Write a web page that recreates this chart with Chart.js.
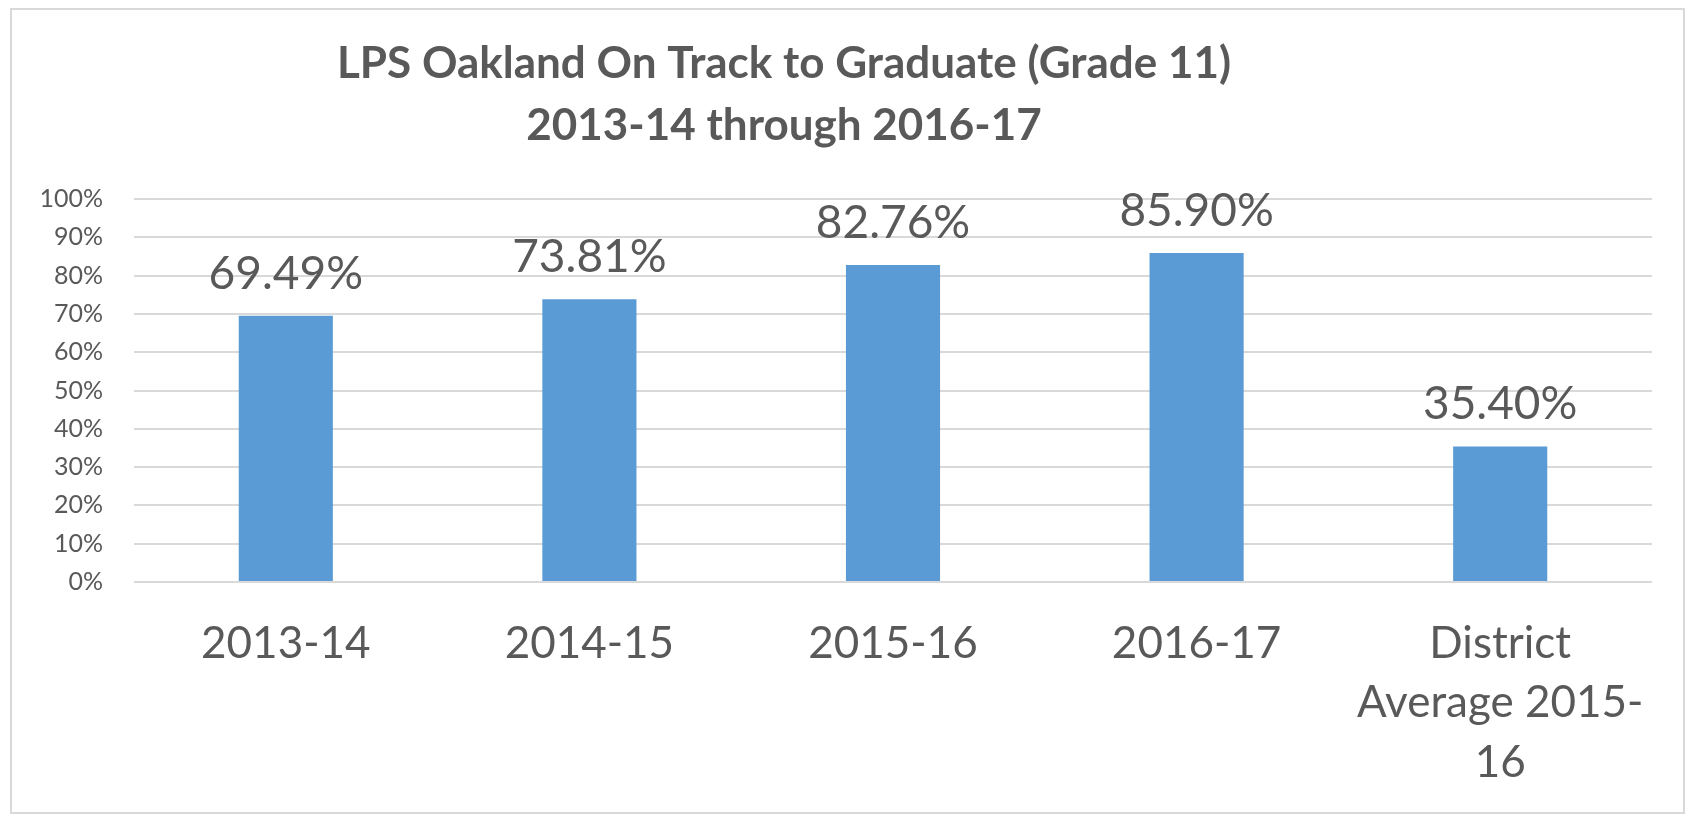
<!DOCTYPE html>
<html>
<head>
<meta charset="utf-8">
<script src="https://cdn.jsdelivr.net/npm/chart.js@4.4.0/dist/chart.umd.min.js"></script>
<style>
  html, body { margin: 0; padding: 0; background: #fff; }
  #wrap { position: relative; width: 1690px; height: 814px; overflow: hidden; }
  #frame { position: absolute; left: 10px; top: 8px; width: 1675px; height: 806px; border: 2px solid #d9d9d9; box-sizing: border-box; }
  canvas { position: absolute; left: 0; top: 0; }
</style>
</head>
<body>
<div id="wrap">
  <canvas id="chart" width="1690" height="814"></canvas>
  <div id="frame"></div>
</div>
<script>
const titleLines = ["LPS Oakland On Track to Graduate (Grade 11)", "2013-14 through 2016-17"];
const categories = ["2013-14", "2014-15", "2015-16", "2016-17", ["District", "Average 2015-", "16"]];
const onTrack = [69.49, 73.81, 82.76, 85.90, 35.40];
const yMin = 0;
const yMax = 100;
const yStep = 10;

const textColor = "#595959";

// title drawn a bit left of the plot centre, like the original
const titlePlugin = {
  id: "offsetTitle",
  afterDraw(chart) {
    const ctx = chart.ctx;
    ctx.save();
    ctx.fillStyle = textColor;
    ctx.font = "bold 44px Lato";
    ctx.textAlign = "center";
    ctx.textBaseline = "alphabetic";
    ctx.fillText(titleLines[0], 784, 78);
    ctx.fillText(titleLines[1], 784, 140);
    ctx.restore();
  }
};

const valueLabels = {
  id: "valueLabels",
  afterDatasetsDraw(chart) {
    const ctx = chart.ctx;
    const meta = chart.getDatasetMeta(0);
    ctx.save();
    ctx.fillStyle = textColor;
    ctx.font = "46px Lato";
    ctx.textAlign = "center";
    ctx.textBaseline = "alphabetic";
    meta.data.forEach((bar, i) => {
      ctx.fillText(onTrack[i].toFixed(2) + "%", bar.x, bar.y - 27);
    });
    ctx.restore();
  }
};

new Chart(document.getElementById("chart"), {
  type: "bar",
  data: {
    labels: categories,
    datasets: [{
      data: onTrack,
      backgroundColor: "#5b9bd5",
      categoryPercentage: 1,
      barPercentage: 0.31
    }]
  },
  options: {
    responsive: false,
    animation: false,
    layout: { padding: { left: 0, right: 38, top: 199, bottom: 0 } },
    plugins: { legend: { display: false }, tooltip: { enabled: false } },
    scales: {
      x: {
        afterFit(scale) { scale.height = 232; },
        grid: { display: false, drawTicks: false },
        border: { display: false },
        ticks: {
          color: textColor,
          font: { family: "Lato", size: 44, lineHeight: 1.35 },
          padding: 32,
          maxRotation: 0,
          autoSkip: false
        }
      },
      y: {
        min: yMin,
        max: yMax,
        afterFit(scale) { scale.width = 134; },
        grid: { color: "#d9d9d9", lineWidth: 2, drawTicks: false },
        border: { display: false },
        ticks: {
          stepSize: yStep,
          color: textColor,
          font: { family: "Lato", size: 25 },
          padding: 31,
          callback: (v) => v + "%"
        }
      }
    }
  },
  plugins: [titlePlugin, valueLabels]
});
</script>
</body>
</html>
